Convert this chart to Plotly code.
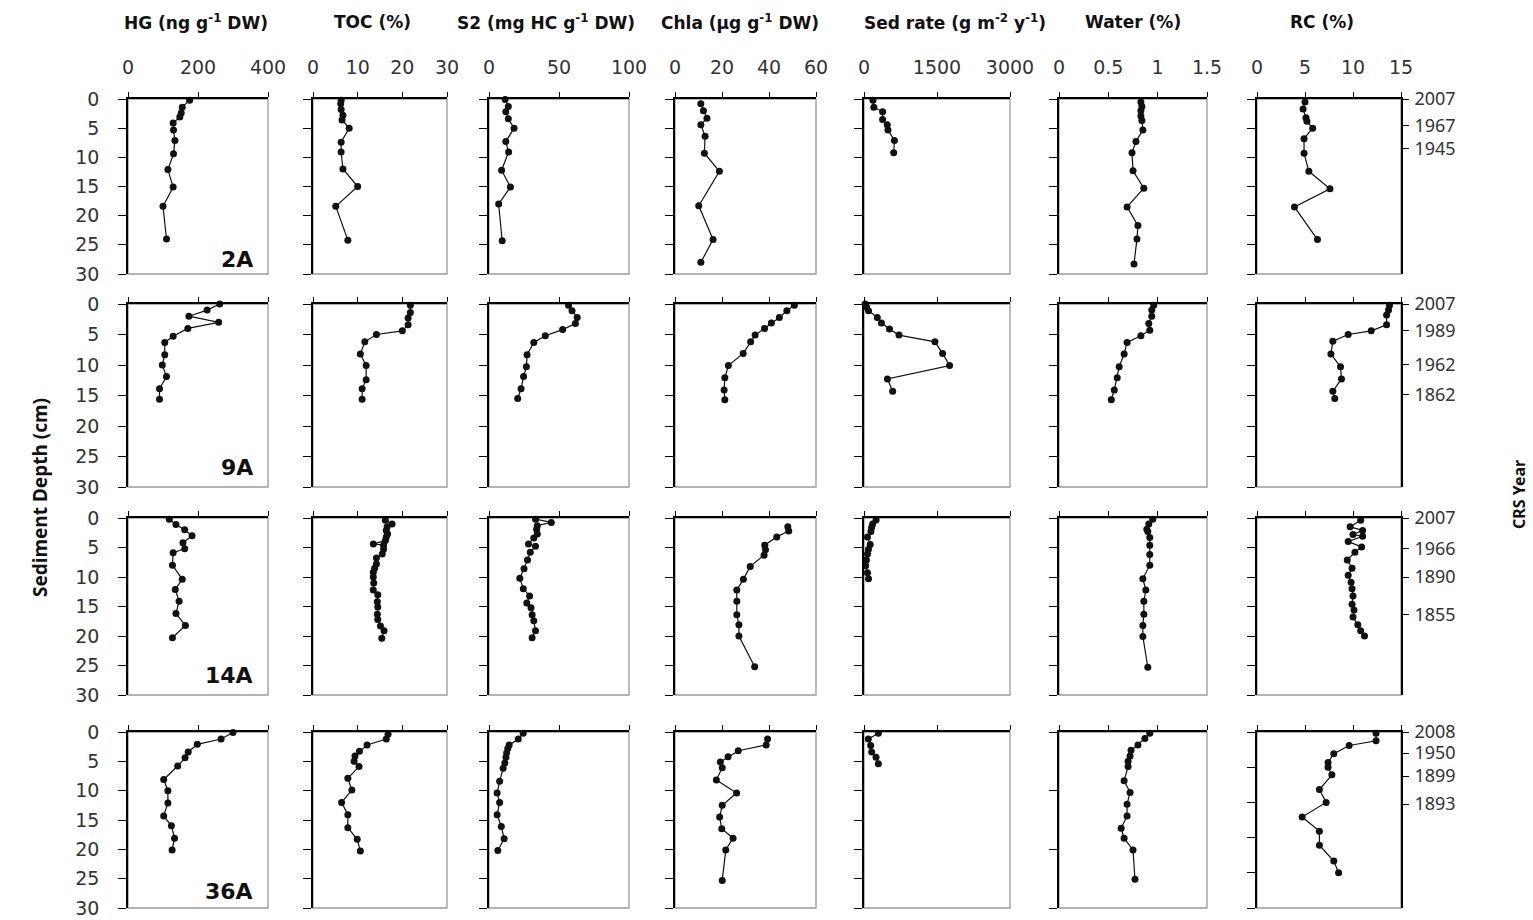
import plotly.graph_objects as go

# ---------------------------------------------------------------- data
CORES = ["2A", "9A", "14A", "36A"]
VARS = ["HG", "TOC", "S2", "Chla", "Sed", "Water", "RC"]

# core 2A
HG_2A_D = [0.2, 1.4, 2.4, 3.1, 4.1, 5.3, 7.1, 9.4, 12.1, 15.1, 18.4, 24.0]
HG_2A = [176, 155, 152, 148, 129, 130, 134, 130, 114, 129, 100, 110]
TOC_2A_D = [0.2, 0.8, 1.8, 2.8, 3.6, 5.0, 7.4, 9.1, 12.0, 15.0, 18.4, 24.2]
TOC_2A = [6.3, 6.2, 6.3, 6.7, 6.5, 8.1, 6.3, 6.3, 6.7, 10.0, 5.1, 7.8]
S2_2A_D = [0.1, 1.3, 2.2, 3.4, 5.0, 7.3, 9.1, 12.2, 15.1, 18.0, 24.3]
S2_2A = [11.5, 13.8, 12.0, 13.8, 17.9, 12.0, 14.0, 9.0, 15.3, 6.9, 9.4]
CHLA_2A_D = [0.8, 2.0, 3.3, 4.4, 6.4, 9.3, 12.4, 18.3, 24.1, 28.0]
CHLA_2A = [11.0, 12.1, 13.6, 11.0, 12.8, 12.5, 18.9, 10.1, 16.2, 11.0]
SED_2A_D = [0.2, 1.4, 2.2, 3.5, 4.4, 5.3, 7.1, 9.2]
SED_2A = [184, 202, 382, 382, 478, 493, 625, 610]
WATER_2A_D = [0.5, 1.3, 2.0, 2.9, 3.7, 5.3, 7.3, 9.2, 12.3, 15.3, 18.5, 21.7, 24.0, 28.3]
WATER_2A = [0.83, 0.84, 0.83, 0.83, 0.84, 0.85, 0.78, 0.74, 0.75, 0.86, 0.69, 0.80, 0.79, 0.76]
RC_2A_D = [0.5, 1.7, 3.2, 3.8, 5.0, 6.8, 9.3, 12.4, 15.4, 18.5, 24.1]
RC_2A = [5.0, 4.8, 5.1, 5.2, 5.8, 4.9, 4.9, 5.4, 7.6, 3.9, 6.3]
YEARS_2A_D = [0, 4.6, 8.5]
YEARS_2A = ["2007", "1967", "1945"]

# core 9A
HG_9A_D = [0.0, 1.0, 2.0, 3.0, 4.0, 5.3, 6.3, 8.3, 10.0, 11.9, 13.9, 15.6]
HG_9A = [262, 226, 174, 259, 171, 129, 105, 105, 98, 110, 90, 90]
TOC_9A_D = [0.2, 1.4, 2.3, 3.4, 4.4, 5.0, 6.2, 8.2, 10.1, 12.4, 13.9, 15.6]
TOC_9A = [21.8, 21.8, 21.3, 21.3, 20.0, 14.2, 11.6, 10.6, 11.9, 11.9, 11.0, 11.0]
S2_9A_D = [0.2, 1.1, 2.2, 3.2, 4.2, 5.2, 6.3, 8.3, 10.3, 11.9, 13.9, 15.5]
S2_9A = [56.8, 59.3, 63.0, 61.7, 52.6, 40.2, 32.0, 27.2, 26.7, 24.7, 22.9, 20.5]
CHLA_9A_D = [0.2, 1.1, 2.2, 3.1, 4.0, 5.1, 6.2, 8.1, 10.1, 12.1, 14.1, 15.7]
CHLA_9A = [50.8, 47.6, 44.4, 41.0, 38.1, 34.1, 32.2, 29.0, 22.7, 21.2, 20.9, 21.2]
SED_9A_D = [0.0, 0.5, 1.1, 2.2, 3.1, 4.1, 5.1, 6.2, 8.1, 10.1, 12.3, 14.3]
SED_9A = [22, 50, 93, 273, 359, 524, 718, 1457, 1615, 1759, 481, 589]
WATER_9A_D = [0.2, 1.0, 2.0, 3.2, 4.3, 5.2, 6.3, 8.2, 10.3, 12.1, 14.1, 15.7]
WATER_9A = [0.96, 0.94, 0.94, 0.91, 0.92, 0.83, 0.69, 0.66, 0.61, 0.59, 0.56, 0.53]
RC_9A_D = [0.2, 1.0, 1.8, 3.4, 4.4, 5.0, 6.1, 8.2, 10.3, 12.3, 14.3, 15.5]
RC_9A = [13.8, 13.7, 13.5, 13.5, 11.9, 9.5, 7.9, 7.7, 8.7, 8.8, 7.9, 8.1]
YEARS_9A_D = [0, 4.4, 9.9, 14.8]
YEARS_9A = ["2007", "1989", "1962", "1862"]

# core 14A
HG_14A_D = [0.2, 1.1, 2.0, 3.0, 4.2, 5.2, 5.9, 8.0, 10.4, 12.1, 14.1, 16.2, 18.2, 20.3]
HG_14A = [118, 137, 162, 183, 157, 162, 129, 127, 155, 135, 146, 137, 164, 127]
TOC_14A_D = [0.4, 1.0, 1.5, 2.1, 2.7, 3.2, 3.8, 4.4, 4.6, 5.3, 6.1, 6.8, 7.8, 8.5, 9.2,
             10.0, 11.0, 12.2, 13.0, 14.2, 15.1, 16.3, 17.2, 18.3, 19.1, 20.4]
TOC_14A = [16.2, 17.7, 16.6, 16.4, 16.7, 16.4, 16.2, 13.5, 15.8, 15.8, 15.5, 14.2, 14.2,
           13.8, 13.5, 13.5, 13.6, 13.5, 14.5, 14.4, 14.5, 14.4, 14.5, 15.1, 15.9, 15.4]
S2_14A_D = [0.2, 0.75, 1.3, 1.9, 2.7, 3.4, 4.4, 4.8, 5.8, 7.1, 8.6, 10.2, 12.0, 13.2,
            14.4, 15.2, 16.4, 17.4, 19.1, 20.3]
S2_14A = [33.3, 44.5, 34.5, 34.0, 34.5, 32.0, 28.2, 33.2, 29.5, 27.5, 25.0, 22.0, 24.5,
          29.0, 27.0, 30.0, 30.8, 32.0, 33.2, 30.8]
CHLA_14A_D = [1.5, 2.2, 3.2, 4.6, 5.4, 6.3, 8.2, 10.4, 12.2, 14.1, 16.4, 18.1, 20.0, 25.2]
CHLA_14A = [48.0, 48.4, 43.3, 38.2, 38.5, 37.9, 32.0, 29.1, 26.3, 26.3, 26.3, 27.2, 27.2, 33.9]
SED_14A_D = [0.35, 1.0, 1.6, 2.3, 3.2, 4.5, 5.3, 6.1, 7.1, 8.1, 9.3, 10.3]
SED_14A = [248, 177, 156, 142, 71, 128, 92, 71, 50, 35, 71, 92]
WATER_14A_D = [0.2, 1.0, 1.9, 2.3, 3.3, 4.6, 6.2, 8.0, 10.3, 12.2, 14.1, 16.3, 18.2, 20.1, 25.3]
WATER_14A = [0.95, 0.91, 0.89, 0.90, 0.92, 0.92, 0.92, 0.92, 0.85, 0.88, 0.86, 0.86,
             0.85, 0.85, 0.90]
RC_14A_D = [0.4, 1.5, 2.1, 2.8, 3.1, 4.0, 4.9, 5.8, 7.1, 8.5, 9.7, 10.9, 12.0, 13.2,
            14.6, 15.6, 16.8, 18.1, 19.1, 20.0]
RC_14A = [10.8, 9.7, 11.0, 10.0, 11.0, 9.5, 10.9, 10.2, 9.4, 9.9, 9.5, 9.8, 9.9, 10.0,
          9.9, 10.1, 10.0, 10.5, 10.8, 11.2]
YEARS_14A_D = [0, 5.2, 10.0, 16.4]
YEARS_14A = ["2007", "1966", "1890", "1855"]

# core 36A
HG_36A_D = [0.1, 1.2, 2.1, 3.4, 4.4, 5.8, 8.1, 10.0, 12.1, 14.3, 16.0, 18.1, 20.1]
HG_36A = [300, 266, 198, 172, 163, 142, 102, 114, 114, 102, 124, 133, 126]
TOC_36A_D = [0.4, 1.2, 2.2, 3.3, 4.1, 5.0, 5.9, 7.9, 9.9, 12.0, 14.1, 16.3, 18.3, 20.3]
TOC_36A = [16.8, 16.4, 12.1, 10.4, 9.4, 9.2, 10.3, 7.8, 8.7, 6.4, 7.8, 7.8, 9.9, 10.6]
S2_36A_D = [0.2, 1.2, 2.2, 2.8, 3.6, 4.3, 5.3, 6.2, 8.4, 10.4, 12.0, 14.1, 16.1, 18.2, 20.2]
S2_36A = [24.4, 20.9, 14.4, 13.4, 12.6, 12.1, 11.3, 10.1, 7.6, 5.8, 7.6, 5.8, 8.8, 10.8, 6.3]
CHLA_36A_D = [1.2, 2.2, 3.2, 4.2, 5.1, 6.1, 8.2, 10.4, 12.5, 14.5, 16.5, 18.1, 20.1, 25.3]
CHLA_36A = [39.4, 38.8, 26.9, 22.6, 19.3, 20.1, 17.6, 26.2, 20.1, 19.0, 19.9, 24.7, 21.6, 20.1]
SED_36A_D = [0.2, 1.2, 2.3, 3.4, 4.3, 5.4]
SED_36A = [295, 89, 137, 158, 247, 295]
WATER_36A_D = [0.2, 1.1, 2.2, 3.1, 4.1, 5.0, 5.9, 8.3, 10.3, 12.3, 14.3, 16.4, 18.1, 20.1, 25.1]
WATER_36A = [0.92, 0.87, 0.80, 0.73, 0.72, 0.70, 0.70, 0.66, 0.72, 0.69, 0.69, 0.63, 0.66,
             0.75, 0.77]
RC_36A_D = [0.2, 1.5, 2.3, 3.7, 5.2, 6.0, 7.3, 9.8, 12.0, 14.5, 16.9, 19.3, 22.0, 24.0]
RC_36A = [12.4, 12.4, 9.6, 8.0, 7.4, 7.4, 7.8, 6.5, 7.2, 4.7, 6.5, 6.5, 8.0, 8.5]
YEARS_36A_D = [0, 3.6, 7.5, 12.3]
YEARS_36A = ["2008", "1950", "1899", "1893"]

# axis scales and labels for each variable
X_TITLES = ["HG (ng g<sup>-1</sup> DW)", "TOC (%)", "S2 (mg HC g<sup>-1</sup> DW)",
            "Chla (µg g<sup>-1</sup> DW)", "Sed rate (g m<sup>-2</sup> y<sup>-1</sup>)",
            "Water (%)", "RC (%)"]
X_MAX = [400, 30, 100, 60, 3000, 1.5, 15]
X_TICKS = [[0, 200, 400], [0, 10, 20, 30], [0, 50, 100], [0, 20, 40, 60],
           [0, 1500, 3000], [0, 0.5, 1, 1.5], [0, 5, 10, 15]]
DEPTH_TICKS = [0, 5, 10, 15, 20, 25, 30]

PROFILES = {
    "2A": [(HG_2A_D, HG_2A), (TOC_2A_D, TOC_2A), (S2_2A_D, S2_2A), (CHLA_2A_D, CHLA_2A),
           (SED_2A_D, SED_2A), (WATER_2A_D, WATER_2A), (RC_2A_D, RC_2A)],
    "9A": [(HG_9A_D, HG_9A), (TOC_9A_D, TOC_9A), (S2_9A_D, S2_9A), (CHLA_9A_D, CHLA_9A),
           (SED_9A_D, SED_9A), (WATER_9A_D, WATER_9A), (RC_9A_D, RC_9A)],
    "14A": [(HG_14A_D, HG_14A), (TOC_14A_D, TOC_14A), (S2_14A_D, S2_14A),
            (CHLA_14A_D, CHLA_14A), (SED_14A_D, SED_14A), (WATER_14A_D, WATER_14A),
            (RC_14A_D, RC_14A)],
    "36A": [(HG_36A_D, HG_36A), (TOC_36A_D, TOC_36A), (S2_36A_D, S2_36A),
            (CHLA_36A_D, CHLA_36A), (SED_36A_D, SED_36A), (WATER_36A_D, WATER_36A),
            (RC_36A_D, RC_36A)],
}
YEARS = {"2A": (YEARS_2A_D, YEARS_2A), "9A": (YEARS_9A_D, YEARS_9A),
         "14A": (YEARS_14A_D, YEARS_14A), "36A": (YEARS_36A_D, YEARS_36A)}
# a couple of panels use a coarser depth tick spacing
SPECIAL_DEPTH_TICKS = {("36A", 5): [0, 10, 20, 30], ("36A", 6): [0, 6, 12, 18, 24, 30]}

# ---------------------------------------------------------------- layout
W, H = 1533, 920
COL_PX = [(128, 268), (313, 447), (489, 629), (675, 816), (864, 1010), (1059, 1207), (1257, 1401)]
ROW_PX = [(99, 274), (304, 487), (518, 695), (732, 908)]
TITLE_X = [196, 372, 546, 740, 955, 1133, 1322]
CORE_LABEL_Y = [259, 467, 675, 891]

TICK_FONT = dict(family="DejaVu Sans", size=19, color="#333333")
YEAR_FONT = dict(family="Noto Sans", size=18, color="#333333")
BOLD_FONT = dict(family="DejaVu Sans", size=17, color="#111111")


def px_x(p):
    return p / W


def px_y(p):
    return 1 - p / H


def sfx(k):
    """Axis-id suffix: the first axis has none."""
    return "" if k == 1 else str(k)


fig = go.Figure()
layout = dict(width=W, height=H, margin=dict(l=0, r=0, t=0, b=0, pad=0),
              template="none", paper_bgcolor="white", plot_bgcolor="white",
              showlegend=False)
shapes, annotations = [], []
NV = len(VARS)

for r, core in enumerate(CORES):
    for c in range(NV):
        k = r * NV + c + 1
        s = sfx(k)
        depth, vals = PROFILES[core][c]
        fig.add_trace(go.Scatter(
            x=vals, y=depth, xaxis=f"x{s}", yaxis=f"y{s}", mode="lines+markers",
            line=dict(color="#111111", width=1.2),
            marker=dict(color="#111111", size=7), cliponaxis=False,
            hoverinfo="x+y"))
        x0, x1 = COL_PX[c]
        y0, y1 = ROW_PX[r]
        layout[f"xaxis{s}"] = dict(
            domain=[px_x(x0), px_x(x1)], anchor=f"y{s}", side="top", automargin=False,
            range=[0, X_MAX[c]], tickmode="array", tickvals=X_TICKS[c],
            showline=True, linecolor="black", linewidth=1.6, mirror=False,
            ticks="outside", ticklen=5, tickwidth=1.4, tickcolor="black",
            showgrid=False, zeroline=False, showticklabels=(r == 0),
            tickfont=TICK_FONT, ticklabelstandoff=11, ticklabeloverflow="allow")
        layout[f"yaxis{s}"] = dict(
            domain=[px_y(y1), px_y(y0)], anchor=f"x{s}", range=[30, 0], automargin=False,
            tickmode="array", tickvals=SPECIAL_DEPTH_TICKS.get((core, c), DEPTH_TICKS),
            showline=True, linecolor="black", linewidth=1.6,
            ticks="outside", ticklen=8, tickwidth=1.4, tickcolor="black",
            showgrid=False, zeroline=False, showticklabels=(c == 0),
            tickfont=TICK_FONT, ticklabelstandoff=15, ticklabeloverflow="allow")
        # light frame on the open sides of each panel
        shapes.append(dict(type="rect", xref=f"x{s} domain", yref=f"y{s} domain",
                           x0=0, x1=1, y0=0, y1=1, layer="below",
                           line=dict(color="#9a9a9a", width=1.3)))

    # CRS dates on the right edge of the RC panel
    k_rc = r * NV + NV
    yd, yl = YEARS[core]
    ky = 4 * NV + 1 + r
    layout[f"yaxis{ky}"] = dict(
        overlaying=f"y{k_rc}", anchor=f"x{k_rc}", side="right", range=[30, 0],
        automargin=False, tickmode="array", tickvals=yd, ticktext=yl,
        showline=True, linecolor="black", linewidth=1.6,
        ticks="outside", ticklen=6, tickwidth=1.4, tickcolor="black",
        showgrid=False, zeroline=False, tickfont=YEAR_FONT, ticklabelstandoff=2,
        ticklabeloverflow="allow")
    # invisible trace so the CRS axis is drawn
    fig.add_trace(go.Scatter(x=[None], y=[None], xaxis=f"x{k_rc}", yaxis=f"y{ky}",
                             showlegend=False, hoverinfo="skip"))

    annotations.append(dict(text=f"<b>{core}</b>", xref="paper", yref="paper",
                            x=px_x(255), y=px_y(CORE_LABEL_Y[r]), xanchor="right",
                            yanchor="middle", showarrow=False,
                            font=dict(family="DejaVu Sans", size=22, color="#111111")))

for c, title in enumerate(X_TITLES):
    annotations.append(dict(text=f"<b>{title}</b>", xref="paper", yref="paper",
                            x=px_x(TITLE_X[c]), y=px_y(22), xanchor="center",
                            yanchor="middle", showarrow=False, font=BOLD_FONT))

annotations.append(dict(text="<b>Sediment Depth (cm)</b>", xref="paper", yref="paper",
                        x=px_x(40), y=px_y(498), textangle=-90, showarrow=False,
                        xanchor="center", yanchor="middle",
                        font=dict(family="Noto Sans", size=19, color="#111111")))
annotations.append(dict(text="<b>CRS Year</b>", xref="paper", yref="paper",
                        x=px_x(1519), y=px_y(495), textangle=-90, showarrow=False,
                        xanchor="center", yanchor="middle",
                        font=dict(family="Noto Sans", size=16, color="#111111")))

layout["shapes"] = shapes
layout["annotations"] = annotations
fig.update_layout(**layout)
# the figure is sized to the page, so drop the default body margin
fig.write_html("out.html",
               post_script="document.body.style.margin='0';"
                           "document.documentElement.style.overflow='hidden';")
